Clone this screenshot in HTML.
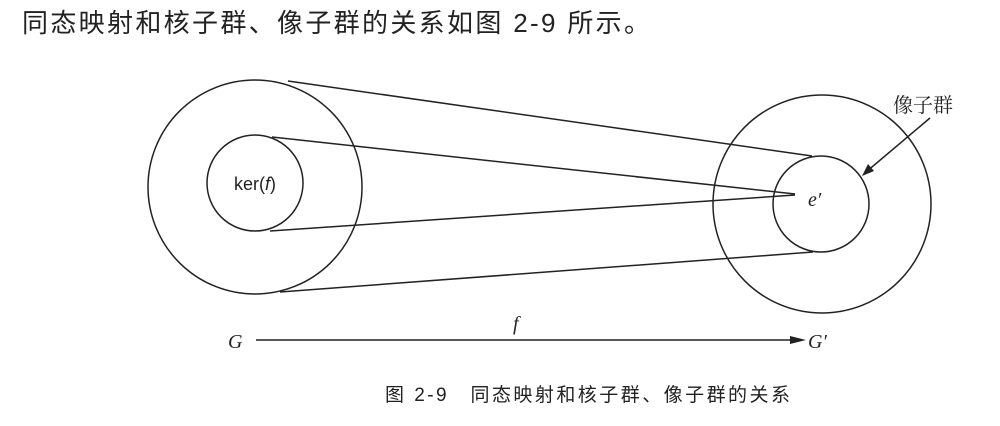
<!DOCTYPE html>
<html><head><meta charset="utf-8"><style>
html,body{margin:0;padding:0;background:#fff;}
body{width:1000px;height:426px;overflow:hidden;position:relative;}
svg{position:absolute;left:0;top:0;}
</style></head><body>
<svg width="1000" height="426" viewBox="0 0 1000 426" xmlns="http://www.w3.org/2000/svg">
<text x="22" y="32" textLength="628" lengthAdjust="spacing" font-family="Liberation Sans, Noto Sans CJK SC, sans-serif" font-size="26" fill="#222">同态映射和核子群、像子群的关系如图 2-9 所示。</text>
<g fill="none" stroke="#222" stroke-width="1.5">
<circle cx="255" cy="187" r="107"/>
<circle cx="255" cy="183" r="48"/>
<circle cx="822" cy="204" r="109"/>
<circle cx="821" cy="204" r="48"/>
<line x1="288" y1="81" x2="812" y2="156"/>
<line x1="280" y1="292" x2="813" y2="252"/>
<line x1="272" y1="137" x2="795" y2="194"/>
<line x1="270" y1="231" x2="795" y2="195"/>
<line x1="930" y1="118" x2="866" y2="172"/>
<line x1="256" y1="340" x2="795" y2="340"/>
</g>
<polygon points="862,176 868,164 874,171" fill="#222"/>
<polygon points="806,340 790,336 790,344" fill="#222"/>
<text x="255" y="190" text-anchor="middle" font-family="Liberation Sans, sans-serif" font-size="18" fill="#222">ker(<tspan font-style="italic">f</tspan>)</text>
<text x="808" y="206" font-family="Liberation Serif, serif" font-style="italic" font-size="20" fill="#222">e′</text>
<text x="893" y="112" font-family="Liberation Serif, Noto Serif CJK SC, serif" font-size="20" fill="#222">像子群</text>
<text x="228" y="348" font-family="Liberation Serif, serif" font-style="italic" font-size="20" fill="#222">G</text>
<text x="808" y="348" font-family="Liberation Serif, serif" font-style="italic" font-size="20" fill="#222">G′</text>
<text x="513" y="330" font-family="Liberation Serif, serif" font-style="italic" font-size="20" fill="#222">f</text>
<text x="385" y="401" textLength="405" lengthAdjust="spacing" font-family="Liberation Sans, Noto Sans CJK SC, sans-serif" font-size="19" fill="#222">图 2-9　同态映射和核子群、像子群的关系</text>
</svg>
</body></html>
